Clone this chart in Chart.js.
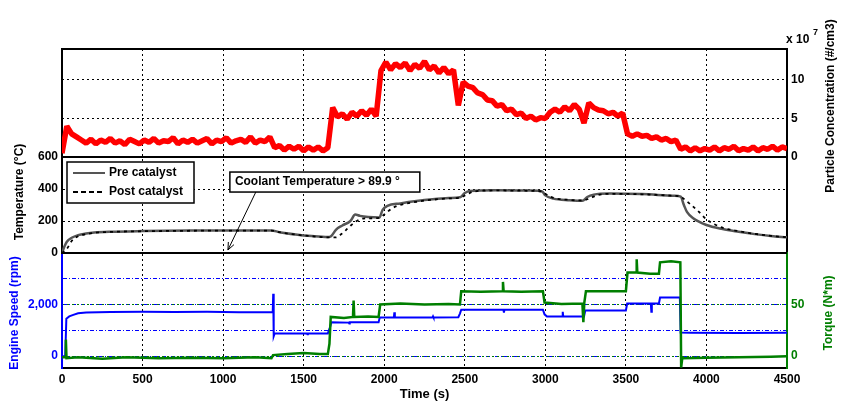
<!DOCTYPE html>
<html lang="en">
<head>
<meta charset="UTF-8" />
<title>Particle concentration, temperature, speed and torque</title>
<script src="https://cdn.jsdelivr.net/npm/chart.js"></script>
<style>
  body { margin: 0; background: #fff; }
  #wrap { width: 843px; height: 404px; }
</style>
</head>
<body>
<div id="wrap"><canvas id="chart" width="843" height="404"></canvas></div>
<script>
// ——— values read off the figure ———
// particle concentration (x10^7 #/cm3), one reading every 30 s
const partVals = [
  0.5, 4.0, 3.0, 2.6, 2.2, 1.8, 2.3, 1.7, 2.2, 1.9,
  2.4, 1.8, 2.1, 1.6, 2.3, 2.0, 1.7, 2.2, 1.9, 2.4,
  1.8, 2.1, 2.0, 2.5, 1.7, 2.2, 1.9, 2.3, 1.8, 2.1,
  2.4, 1.7, 2.2, 2.0, 2.5, 1.8, 2.1, 2.3, 1.9, 2.6,
  1.8, 2.2, 2.0, 2.6, 1.2, 1.5, 0.9, 1.4, 1.0, 1.4,
  0.8, 1.3, 0.9, 1.3, 0.8, 1.2, 6.4, 5.2, 5.6, 4.9,
  5.8, 5.3, 6.0, 5.4, 6.2, 5.3, 11.2, 12.3, 11.3, 12.1,
  11.6, 12.2, 11.2, 12.0, 11.5, 12.4, 11.3, 11.8, 10.9, 11.6,
  10.8, 11.3, 6.7, 9.7, 9.2, 9.0, 8.3, 8.1, 7.4, 7.3,
  6.6, 6.8, 6.0, 6.2, 5.5, 5.7, 5.0, 5.3, 4.8, 5.1,
  5.0, 5.8, 6.2, 5.8, 6.5, 6.0, 6.8, 6.2, 4.4, 7.0,
  6.4, 6.1, 6.0, 5.6, 5.8, 5.3, 5.7, 3.0, 2.7, 3.0,
  2.7, 2.8, 2.4, 2.6, 2.2, 2.4, 2.0, 2.2, 1.0, 1.3,
  0.8, 1.2, 0.8, 1.1, 0.9, 1.3, 0.8, 1.2, 1.0, 1.4,
  0.8, 1.1, 0.9, 1.3, 0.8, 1.2, 1.0, 1.4, 0.9, 1.3,
  1.1
];
const partTime = partVals.map((_, i) => i * 30);

// exhaust temperature (°C)
const preTime = [0, 15, 30, 60, 100, 150, 200, 300, 500, 800, 1100, 1300, 1350, 1450, 1550, 1650, 1670, 1700, 1740, 1790, 1820, 1850, 1900, 1970, 1990, 2020, 2100, 2200, 2300, 2400, 2470, 2500, 2530, 2700, 2900, 2980, 3000, 3050, 3150, 3230, 3260, 3300, 3400, 3600, 3800, 3840, 3860, 3880, 3920, 4000, 4100, 4200, 4300, 4400, 4500];
const preTemp = [0, 40, 70, 95, 112, 122, 128, 133, 137, 140, 141, 141, 130, 116, 106, 100, 105, 145, 172, 200, 240, 232, 225, 222, 270, 295, 310, 325, 336, 343, 348, 375, 388, 392, 390, 385, 360, 340, 330, 326, 350, 365, 372, 368, 358, 352, 300, 255, 215, 175, 150, 133, 118, 106, 98];
const postTime = [0, 30, 60, 100, 150, 200, 300, 500, 800, 1100, 1300, 1350, 1450, 1550, 1650, 1700, 1730, 1780, 1820, 1870, 1970, 2000, 2050, 2100, 2200, 2300, 2400, 2470, 2520, 2560, 2700, 2900, 2980, 3000, 3050, 3150, 3230, 3270, 3320, 3400, 3600, 3800, 3840, 3870, 3900, 3950, 4000, 4050, 4100, 4200, 4300, 4400, 4500];
const postTemp = [0, 25, 75, 105, 118, 126, 132, 136, 139, 140, 140, 130, 115, 105, 98, 98, 115, 160, 195, 215, 220, 240, 280, 300, 320, 333, 341, 346, 370, 385, 391, 389, 385, 370, 345, 332, 328, 340, 360, 370, 367, 357, 352, 330, 305, 260, 210, 180, 158, 136, 120, 107, 99];

// engine speed (rpm)
const speedTime = [0, 20, 27, 45, 70, 100, 150, 300, 500, 700, 900, 1100, 1300, 1308, 1311, 1314, 1320, 1450, 1520, 1523, 1526, 1650, 1665, 1672, 1780, 1783, 1786, 1965, 1972, 2060, 2063, 2066, 2300, 2303, 2306, 2460, 2470, 2478, 2740, 2743, 2746, 2985, 2995, 3010, 3105, 3108, 3111, 3240, 3248, 3500, 3508, 3655, 3658, 3661, 3705, 3712, 3835, 3840, 3900, 4200, 4500];
const speedRpm = [0, 0, 1450, 1540, 1600, 1660, 1690, 1710, 1720, 1715, 1720, 1705, 1700, 1700, 2420, 770, 880, 880, 880, 850, 880, 880, 1150, 1310, 1300, 1270, 1310, 1310, 1500, 1500, 1700, 1500, 1500, 1540, 1500, 1510, 1650, 1800, 1800, 1690, 1800, 1800, 1620, 1540, 1540, 1720, 1540, 1540, 1770, 1770, 2040, 2040, 1720, 2040, 2040, 2270, 2270, 920, 910, 900, 905];

// torque (N*m)
const torqueTime = [0, 20, 24, 28, 100, 250, 400, 600, 800, 1000, 1200, 1300, 1310, 1400, 1500, 1600, 1650, 1660, 1668, 1750, 1806, 1810, 1814, 1900, 1965, 1975, 2100, 2250, 2400, 2470, 2478, 2600, 2733, 2737, 2741, 2850, 2985, 2995, 3100, 3230, 3236, 3242, 3252, 3400, 3500, 3510, 3563, 3567, 3571, 3650, 3705, 3712, 3780, 3838, 3843, 3850, 4000, 4200, 4400, 4500];
const torqueNm = [-1, -1, 16, -2, -1, -2.5, -1, -2, -1.5, -2, -1, -2, 1, 2, 3, 2, 2, 12, 38, 37, 38, 54, 38, 38.5, 38, 50, 51, 50, 50.5, 50, 63, 62.5, 63, 72, 63, 62.5, 63, 52, 50.5, 51, 33, 52, 63, 63, 63, 81, 81, 94, 81, 80, 80, 91, 92, 91, -11, -2, -1.5, -1, -0.5, 0];

// tick values
const partTicks = [0, 5, 10];
const tempTicks = [0, 200, 400, 600];
const speedTicks = [0, 1000, 2000, 3000];
const speedLabelled = [0, 2000];
const torqueTicks = [0, 50, 100];
const torqueLabelled = [0, 50];

const BLUE = '#0000ff', GREEN = '#007f00', RED = '#ff0000', GREY = '#555555';
const pts = (xs, ys) => xs.map((x, i) => ({ x, y: ys[i] }));
const fixTicks = vals => s => { s.ticks = vals.map(v => ({ value: v })); };

Chart.defaults.font.family = '"Liberation Sans", Arial, sans-serif';
Chart.defaults.font.size = 12;
Chart.defaults.font.weight = 'bold';
Chart.defaults.color = '#000';

function vText(ctx, txt, x, y, color) {
  ctx.save();
  ctx.translate(x, y);
  ctx.rotate(-Math.PI / 2);
  ctx.fillStyle = color;
  ctx.textAlign = 'center';
  ctx.textBaseline = 'middle';
  ctx.fillText(txt, 0, 0);
  ctx.restore();
}

// solid panel separators
const panels = {
  id: 'panels',
  beforeDatasetsDraw(chart) {
    const { ctx, chartArea: a, scales } = chart;
    ctx.save();
    ctx.strokeStyle = '#000';
    ctx.lineWidth = 2;
    [a.top, scales.yPart.getPixelForValue(0), scales.yTemp.getPixelForValue(0)].forEach(y => {
      ctx.beginPath();
      ctx.moveTo(a.left, y);
      ctx.lineTo(a.right, y);
      ctx.stroke();
    });
    ctx.restore();
  }
};

// axis titles, legend box and the coolant note
const extras = {
  id: 'extras',
  afterDraw(chart) {
    const { ctx, scales } = chart;
    const font = 'bold 12px "Liberation Sans", Arial, sans-serif';
    ctx.save();
    ctx.font = font;
    vText(ctx, 'Temperature (°C)', 20, 192, '#000');
    vText(ctx, 'Engine Speed (rpm)', 15, 313, BLUE);
    vText(ctx, 'Particle Concentration (#/cm3)', 831, 106, '#000');
    vText(ctx, 'Torque (N*m)', 829, 313, GREEN);

    ctx.fillStyle = '#000';
    ctx.textAlign = 'left';
    ctx.textBaseline = 'middle';
    ctx.fillText('x 10', 786, 40);
    ctx.font = 'bold 9px "Liberation Sans", Arial, sans-serif';
    ctx.fillText('7', 813, 33);
    ctx.font = font;

    // legend
    ctx.fillStyle = '#fff';
    ctx.fillRect(67, 162, 127, 41);
    ctx.strokeStyle = '#000';
    ctx.lineWidth = 1.5;
    ctx.strokeRect(67, 162, 127, 41);
    ctx.lineWidth = 2;
    ctx.strokeStyle = GREY;
    ctx.beginPath(); ctx.moveTo(73, 173); ctx.lineTo(105, 173); ctx.stroke();
    ctx.strokeStyle = '#000';
    ctx.setLineDash([5, 3]);
    ctx.beginPath(); ctx.moveTo(73, 192); ctx.lineTo(105, 192); ctx.stroke();
    ctx.setLineDash([]);
    ctx.fillStyle = '#000';
    ctx.fillText('Pre catalyst', 109, 173);
    ctx.fillText('Post catalyst', 109, 192);

    // coolant note: box and arrow placed in time / temperature units
    const x = scales.x, y = scales.yTemp;
    const bx0 = x.getPixelForValue(1042), bx1 = x.getPixelForValue(2221);
    const by0 = y.getPixelForValue(506), by1 = y.getPixelForValue(381);
    ctx.fillStyle = '#fff';
    ctx.fillRect(bx0, by0, bx1 - bx0, by1 - by0);
    ctx.lineWidth = 1.5;
    ctx.strokeRect(bx0, by0, bx1 - bx0, by1 - by0);
    ctx.fillStyle = '#000';
    ctx.fillText('Coolant Temperature > 89.9 °', bx0 + 5, (by0 + by1) / 2);
    const ax0 = x.getPixelForValue(1203), ay0 = by1;
    const ax1 = x.getPixelForValue(1030), ay1 = y.getPixelForValue(19);
    ctx.lineWidth = 1;
    ctx.beginPath(); ctx.moveTo(ax0, ay0); ctx.lineTo(ax1, ay1); ctx.stroke();
    const ang = Math.atan2(ay1 - ay0, ax1 - ax0);
    ctx.beginPath();
    ctx.moveTo(ax1, ay1);
    ctx.lineTo(ax1 - 8 * Math.cos(ang - 0.4), ay1 - 8 * Math.sin(ang - 0.4));
    ctx.moveTo(ax1, ay1);
    ctx.lineTo(ax1 - 8 * Math.cos(ang + 0.4), ay1 - 8 * Math.sin(ang + 0.4));
    ctx.stroke();
    ctx.restore();
  }
};

const dummy = (pos, weight, w) => ({
  type: 'linear', position: pos, stack: pos, stackWeight: weight, min: 0, max: 1,
  ticks: { display: false }, grid: { display: false },
  border: { color: '#000', width: 2 },
  afterFit: s => { s.width = w; }
});

new Chart(document.getElementById('chart'), {
  type: 'line',
  data: {
    datasets: [
      { label: 'Torque', data: pts(torqueTime, torqueNm), yAxisID: 'yTorque', borderColor: GREEN, borderWidth: 2.5, order: 0 },
      { label: 'Post catalyst', data: pts(postTime, postTemp), yAxisID: 'yTemp', borderColor: '#000', borderWidth: 1.8, borderDash: [3, 4], cubicInterpolationMode: 'monotone', order: 1 },
      { label: 'Pre catalyst', data: pts(preTime, preTemp), yAxisID: 'yTemp', borderColor: GREY, borderWidth: 2.5, cubicInterpolationMode: 'monotone', order: 2 },
      { label: 'Engine speed', data: pts(speedTime, speedRpm), yAxisID: 'ySpeed', borderColor: BLUE, borderWidth: 2, order: 3 },
      { label: 'Particle concentration', data: pts(partTime, partVals), yAxisID: 'yPart', borderColor: RED, borderWidth: 5.5, borderJoinStyle: 'bevel', order: 4 }
    ]
  },
  options: {
    responsive: false,
    animation: false,
    events: [],
    elements: { point: { radius: 0 }, line: { tension: 0, fill: false } },
    layout: { padding: { top: 49, left: 0, right: 0, bottom: 0 } },
    plugins: { legend: { display: false }, tooltip: { enabled: false } },
    scales: {
      x: {
        type: 'linear', position: 'bottom', min: 0, max: 4500,
        ticks: { stepSize: 500, padding: 4, maxRotation: 0, color: '#000', callback: v => String(v) },
        grid: { color: '#000', lineWidth: 1, drawTicks: false },
        border: { color: '#000', width: 2, dash: [2, 3] },
        title: { display: true, text: 'Time (s)', font: { size: 13, weight: 'bold' }, padding: { top: 0, bottom: 2 }, color: '#000' },
        afterFit: s => { s.height = 36; }
      },
      ySpeed: {
        type: 'linear', position: 'left', stack: 'left', stackWeight: 115, min: -460, max: 4000,
        afterBuildTicks: fixTicks(speedTicks),
        ticks: { color: BLUE, padding: 4, callback: v => speedLabelled.includes(v) ? v.toLocaleString('en-US') : '' },
        grid: { color: BLUE, lineWidth: 1, drawTicks: false },
        border: { color: BLUE, width: 2, dash: [4, 2, 1, 2] },
        afterFit: s => { s.width = 62; }
      },
      yTemp: {
        type: 'linear', position: 'left', stack: 'left', stackWeight: 96, min: 0, max: 600,
        afterBuildTicks: fixTicks(tempTicks),
        ticks: { color: '#000', padding: 4 },
        grid: { color: c => (c.tick && (c.tick.value === 0 || c.tick.value === 600)) ? 'rgba(0,0,0,0)' : '#000', lineWidth: 1, drawTicks: false },
        border: { color: '#000', width: 2, dash: [2, 3] },
        afterFit: s => { s.width = 62; }
      },
      yTop: dummy('left', 108, 62),
      yPart: {
        type: 'linear', position: 'right', stack: 'right', stackWeight: 108, min: 0, max: 14,
        afterBuildTicks: fixTicks(partTicks),
        ticks: { color: '#000', padding: 4 },
        grid: { color: c => (c.tick && c.tick.value === 0) ? 'rgba(0,0,0,0)' : '#000', lineWidth: 1, drawTicks: false },
        border: { color: '#000', width: 2, dash: [2, 3] },
        afterFit: s => { s.width = 56; }
      },
      yMid: dummy('right', 96, 56),
      yTorque: {
        type: 'linear', position: 'right', stack: 'right', stackWeight: 115, min: -11.5, max: 100,
        afterBuildTicks: fixTicks(torqueTicks),
        ticks: { color: GREEN, padding: 4, callback: v => torqueLabelled.includes(v) ? String(v) : '' },
        grid: { color: GREEN, lineWidth: 1, drawTicks: false },
        border: { color: GREEN, width: 2, dash: [2, 3] },
        afterFit: s => { s.width = 56; }
      }
    }
  },
  plugins: [panels, extras]
});
</script>
</body>
</html>
